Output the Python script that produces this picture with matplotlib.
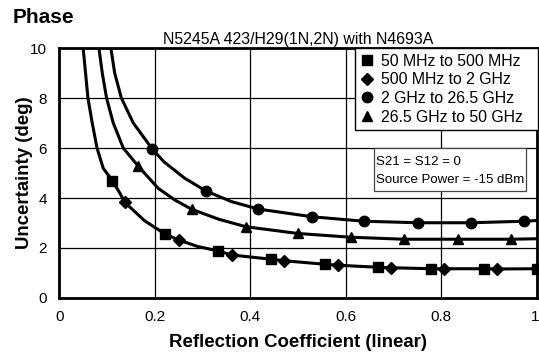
import matplotlib
matplotlib.use("Agg")
import matplotlib.pyplot as plt
import matplotlib.transforms as mtransforms
from matplotlib.lines import Line2D
from matplotlib.patches import Rectangle

plt.rcParams['font.family'] = ['Liberation Sans', 'DejaVu Sans']

# marker points per frequency band (reflection coeff, phase uncertainty deg)
sq_x = [0.111, 0.222, 0.333, 0.444, 0.556, 0.667, 0.778, 0.889, 1.0]
sq_y = [4.70, 2.55, 1.88, 1.55, 1.35, 1.23, 1.17, 1.17, 1.17]
dm_x = [0.137, 0.250, 0.361, 0.470, 0.583, 0.694, 0.805, 0.916]
dm_y = [3.83, 2.32, 1.72, 1.49, 1.31, 1.21, 1.17, 1.16]
ci_x = [0.194, 0.307, 0.416, 0.529, 0.638, 0.751, 0.862, 0.973]
ci_y = [5.98, 4.28, 3.56, 3.25, 3.07, 3.01, 3.01, 3.07]
tr_x = [0.165, 0.277, 0.391, 0.500, 0.611, 0.722, 0.835, 0.946]
tr_y = [5.28, 3.55, 2.85, 2.58, 2.43, 2.35, 2.35, 2.35]

# extra points along the curves (steep part near the top, knees, right end)
low_ext_x = [0.050, 0.055, 0.060, 0.069, 0.079, 0.092, 0.127, 0.178, 0.290]
low_ext_y = [10.0, 9.0, 8.0, 7.0, 6.0, 5.19, 4.19, 3.10, 2.06]
tri_ext_x = [0.083, 0.090, 0.099, 0.113, 0.134, 0.207, 0.242, 0.334, 1.0]
tri_ext_y = [10.0, 9.0, 8.0, 7.0, 6.0, 4.39, 3.92, 3.15, 2.37]
cir_ext_x = [0.108, 0.116, 0.130, 0.155, 0.219, 0.262, 0.360, 1.0]
cir_ext_y = [10.0, 9.0, 8.0, 7.0, 5.45, 4.80, 3.86, 3.10]

labels = ["50 MHz to 500 MHz", "500 MHz to 2 GHz", "2 GHz to 26.5 GHz", "26.5 GHz to 50 GHz"]
x_ticks = [0, 0.2, 0.4, 0.6, 0.8, 1]
x_ticklabels = ["0", "0.2", "0.4", "0.6", "0.8", "1"]
y_ticks = [0, 2, 4, 6, 8, 10]


def trace(xs, ys):
    pts = sorted(zip(xs, ys))
    return [p[0] for p in pts], [p[1] for p in pts]


fig = plt.figure(figsize=(5.39, 3.56), dpi=100)
ax = fig.add_axes([0.110, 0.163, 0.886, 0.702])

lw = 2.2
lx, ly = trace(sq_x + dm_x + low_ext_x, sq_y + dm_y + low_ext_y)
ax.plot(lx, ly, color='black', lw=lw, zorder=3)
tx, ty = trace(tr_x + tri_ext_x, tr_y + tri_ext_y)
ax.plot(tx, ty, color='black', lw=lw, zorder=3)
cx, cy = trace(ci_x + cir_ext_x, ci_y + cir_ext_y)
ax.plot(cx, cy, color='black', lw=lw, zorder=3)

ax.plot(sq_x, sq_y, 's', color='black', ms=7.2, zorder=4, clip_on=False)
ax.plot(dm_x, dm_y, 'D', color='black', ms=6, zorder=4, clip_on=False)
ax.plot(ci_x, ci_y, 'o', color='black', ms=7.5, zorder=4, clip_on=False)
ax.plot(tr_x, tr_y, '^', color='black', ms=7.5, zorder=4, clip_on=False)

ax.set_xlim(0, 1)
ax.set_ylim(0, 10)
ax.set_xticks(x_ticks)
ax.set_xticklabels(x_ticklabels)
ax.set_yticks(y_ticks)
ax.tick_params(length=0, labelsize=11, pad=9)
# keep the "1" inside the figure edge
last = ax.get_xticklabels()[-1]
last.set_ha('right')
last.set_transform(last.get_transform() + mtransforms.ScaledTranslation(3 / 100, 0, fig.dpi_scale_trans))
ax.grid(True, color='black', lw=0.9)
ax.set_axisbelow(True)
for s in ax.spines.values():
    s.set_linewidth(2)

ax.set_xlabel("Reflection Coefficient (linear)", fontsize=13.4, fontweight='bold', labelpad=7)
ax.set_ylabel("Uncertainty (deg)", fontsize=13.4, fontweight='bold')
ax.yaxis.set_label_coords(-0.0555, 0.5)
ax.set_title("N5245A 423/H29(1N,2N) with N4693A", fontsize=11.4, pad=3)
fig.text(0.024, 0.935, "Phase", fontsize=15, fontweight='bold')

handles = [
    Line2D([], [], ls='none', marker='s', color='black', ms=6.5),
    Line2D([], [], ls='none', marker='D', color='black', ms=6),
    Line2D([], [], ls='none', marker='o', color='black', ms=7.5),
    Line2D([], [], ls='none', marker='^', color='black', ms=7.5),
]
leg = ax.legend(handles, labels, loc='upper left', bbox_to_anchor=(0.619, 0.0, 0.384, 1.0),
                mode='expand', fontsize=11.4, frameon=True, fancybox=False, framealpha=1,
                edgecolor='black', borderpad=0.35, labelspacing=0.23,
                handlelength=0.8, handletextpad=0.5, borderaxespad=0)
leg.get_frame().set_linewidth(1.0)

# conditions box
ax.add_patch(Rectangle((0.659, 0.428), 0.318, 0.172, transform=ax.transAxes,
                       fc='white', ec='#444444', lw=0.9, zorder=5))
ax.text(0.663, 0.532, "S21 = S12 = 0", transform=ax.transAxes,
        fontsize=9.5, va='baseline', ha='left', zorder=6)
ax.text(0.663, 0.460, "Source Power = -15 dBm", transform=ax.transAxes,
        fontsize=9.5, va='baseline', ha='left', zorder=6)

fig.savefig("out.png", dpi=100)
